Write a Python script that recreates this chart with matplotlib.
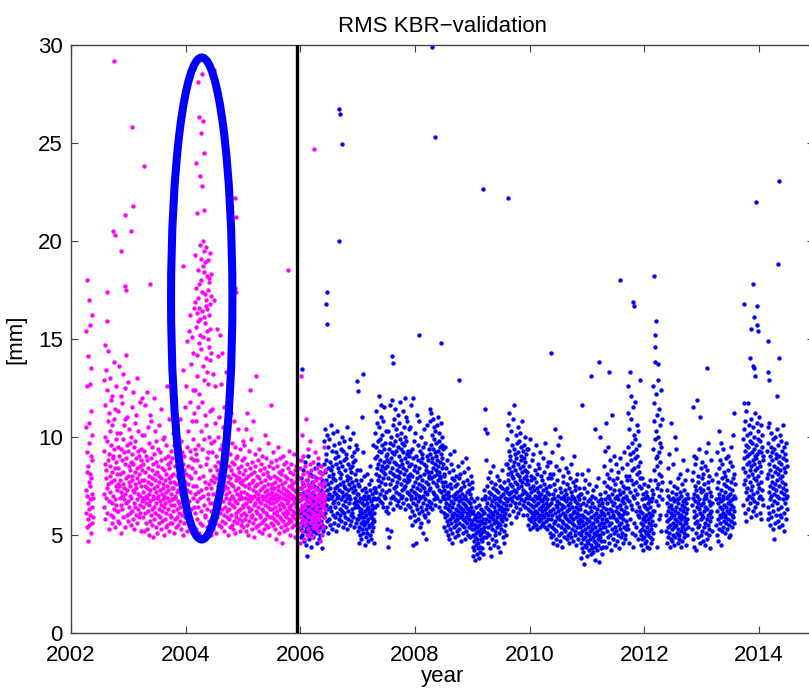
import numpy as np
import matplotlib.pyplot as plt
from matplotlib.patches import Ellipse

plt.rcParams['font.family'] = ['Liberation Sans', 'DejaVu Sans']

# KBR validation RMS [mm], stored as runs of evenly spaced samples:
# run k covers t0[k] .. t1[k] (decimal year)

# first satellite period (magenta)
mag_t0 = [2002.26, 2002.57, 2002.82, 2003.25, 2003.76, 2004.16, 2004.45, 2005.00, 2005.50, 2005.97]
mag_t1 = [2002.38, 2002.82, 2003.25, 2003.76, 2004.16, 2004.45, 2005.00, 2005.50, 2005.97, 2006.43]
mag_rms = [
    "7.3 10.5 6.1 15.4 8.2 5.4 12.6 7.0 9.2 18.0 5.8 6.6 14.1 8.5 4.7 7.7 10.7 6.3 17.0 5.5 9.7 12.7 7.5 15.7 6.0 8.1 "
    "6.8 11.3 5.1 9.0 7.9 13.5 6.4 8.8 5.6 16.2 7.1 10.1 6.9 5.9",
    "9.3 12.9 7.1 6.4 14.7 8.6 10.0 5.8 11.6 7.9 13.4 6.9 8.3 15.9 9.8 7.4 12.4 6.1 10.8 8.8 14.4 7.6 5.3 9.1 11.2 6.7 "
    "8.0 13.0 7.2 10.3 8.5 6.0 9.6 11.9 7.7 5.6 10.6 8.2 6.6 12.1 9.0 7.0 5.9 8.9 10.9 6.3 7.8 13.8 9.4 6.8 8.4 11.4 "
    "5.4 7.5 9.9 6.5 8.7 12.6 7.3 10.2 6.2 8.1 9.5 7.6 5.7",
    "8.4 6.2 11.3 7.5 9.0 5.6 13.6 7.8 6.9 10.2 8.1 12.1 6.5 9.4 7.2 5.1 8.8 11.7 7.0 6.3 9.9 13.2 8.2 5.9 7.6 10.6 "
    "6.8 9.2 7.4 12.5 8.6 5.4 7.1 10.9 6.6 8.9 7.9 14.2 6.0 9.6 7.3 11.0 8.0 5.7 6.7 9.3 12.8 7.7 8.5 6.4 10.4 7.0 "
    "8.3 6.1 9.7 7.5 5.5 8.7 10.0 6.9 7.8 11.5 6.2 8.0 9.1 5.8 7.3 12.3 8.6 6.6 9.5 7.2 5.3 10.7 8.2 6.4 7.6 9.8 "
    "6.0 8.9 11.1 7.4 5.6 8.4 6.8 13.0 7.9 9.3 6.3 7.1 10.3 8.1 5.9 7.7 9.0 6.5 8.5 11.8 7.0 6.1 9.4 7.5 8.8 5.2 "
    "10.1 6.7 7.8 12.0 8.3 6.9",
    "7.2 5.9 8.6 6.4 10.1 7.8 5.2 9.3 6.8 7.5 11.6 6.1 8.2 7.0 5.6 9.0 6.6 12.3 7.4 8.8 5.3 6.9 10.5 7.7 6.2 8.4 "
    "5.0 7.1 9.7 6.5 8.0 11.1 7.3 5.7 6.7 8.9 7.6 10.8 6.0 8.3 5.5 7.9 6.3 9.5 7.0 4.9 8.6 6.8 12.0 7.4 5.8 9.1 "
    "6.4 7.8 10.3 6.1 8.1 5.4 7.2 9.8 6.6 8.7 7.5 5.1 8.2 6.9 9.4 7.0 6.0 8.5 5.6 7.7 10.6 6.3 8.0 7.3 5.9 9.2 "
    "6.7 7.9 5.3 8.8 6.5 11.4 7.1 6.2 8.4 5.7 7.6 9.9 6.8 7.4 5.0 8.3 6.4 7.0 10.0 5.8 8.9 6.6 7.8 5.4 9.6 7.2 "
    "6.1 8.1 7.5 5.5 6.9 12.6 8.6 6.3 7.3 9.0 5.2 7.9 6.7 8.4 10.9 6.0 7.7 5.6 8.7 6.5 7.1 9.3 5.9 8.0 6.8 7.4",
    "6.8 8.9 5.6 7.4 10.2 6.2 8.1 5.1 7.7 9.6 6.5 12.1 7.0 5.8 8.5 6.9 11.0 7.6 5.4 9.1 6.3 8.0 7.2 5.9 10.6 6.7 "
    "8.7 7.3 5.5 9.4 6.1 8.2 6.6 7.9 10.9 5.7 8.4 6.4 9.8 7.1 8.8 5.3 7.5 6.0 9.2 7.8 5.0 8.6 6.8 13.4 7.4 5.6 "
    "9.0 6.2 8.3 11.5 7.0 5.9 7.7 6.5 12.6 8.1 6.9 5.2 9.5 7.3 14.9 6.6 8.5 5.8 10.3 7.6 6.1 15.4 8.0 6.7 11.8 5.5 "
    "9.3 7.2 16.2 8.9 6.3 13.7 7.9 5.4 10.8 8.4 15.1 6.9 12.4 7.5 9.9 14.3 6.4 8.8 11.2 16.6 7.1 9.4",
    "8.2 16.9 6.1 12.4 19.3 7.5 15.6 5.3 10.8 17.6 9.1 24.0 6.7 14.2 16.3 8.8 21.4 5.8 13.1 17.1 7.2 15.9 28.1 11.5 "
    "6.4 18.5 9.6 16.6 5.1 14.8 26.3 7.9 17.8 12.2 19.8 6.9 15.2 23.3 8.5 16.0 5.6 18.0 10.3 25.5 7.3 14.5 19.1 6.2 "
    "17.4 11.8 28.5 9.4 16.4 22.8 5.5 13.6 20.0 8.0 26.1 15.1 18.7 7.0 21.6 12.9 24.5 6.5 18.4 16.1 9.9 19.5 7.7 "
    "17.3 6.0 15.8 11.1 18.9 5.9 16.7 8.6 14.0 17.0 7.4 19.7 10.6 6.3 15.4 18.2 5.4 13.3 16.5 8.9 17.5 6.8 12.7 19.0 "
    "7.1 15.0 9.2 18.1 5.7 16.2 10.0 14.6 7.6 17.9 6.6 13.9 19.4 8.3 15.5 5.2 16.8 11.3 7.8 18.3 6.2 14.3 9.7 17.2 5.0",
    "7.4 9.2 5.8 6.6 11.4 8.0 5.3 13.2 7.1 6.2 9.8 17.0 7.7 5.6 8.5 10.7 6.4 12.6 7.9 5.1 9.0 6.8 15.5 8.3 7.2 5.9 "
    "10.0 6.5 14.1 8.7 7.5 5.5 11.0 6.9 8.1 7.0 15.2 6.1 9.4 7.6 5.4 8.6 12.7 6.3 7.8 9.6 5.7 14.3 8.2 6.7 10.5 7.3 "
    "5.2 11.5 8.9 6.0 7.5 9.9 6.4 8.4 5.6 7.1 13.3 6.9 8.8 5.9 7.4 9.3 6.2 8.0 5.0 7.7 10.2 6.6 8.5 5.8 7.2 6.3 "
    "9.1 5.4 7.9 6.8 8.3 11.2 6.0 7.6 5.5 8.7 6.5 9.7 7.0 5.3 8.1 6.9 7.5 10.8 5.7 8.6 6.4 7.3 5.1 9.5 6.7 8.0 "
    "7.8 5.9 6.1 8.9 7.1 9.0 5.6 6.6 8.4 7.4 10.4 6.2 5.8 7.9 6.8 8.2 5.2 7.0 9.4 6.3 7.7 5.5 8.5 6.0 7.2 6.9 "
    "8.8 5.7 7.6 9.8 6.4 8.1",
    "6.5 7.8 5.4 8.9 6.1 7.2 9.6 5.8 6.9 8.3 7.5 5.2 10.4 6.6 7.9 6.0 8.6 5.5 7.1 11.2 6.4 8.0 6.8 5.0 7.6 9.3 "
    "6.2 7.4 5.7 8.4 6.7 12.4 7.0 5.9 8.1 6.3 9.9 7.7 5.3 6.9 8.7 6.0 7.3 10.8 5.6 7.8 6.5 8.2 4.9 7.0 9.1 6.6 "
    "7.5 5.8 8.5 6.2 13.1 7.2 5.4 6.8 8.0 6.1 7.6 5.5 6.9 8.8 6.4 7.1 5.2 7.9 6.7 9.4 5.9 7.3 6.0 8.3 6.6 7.7 "
    "5.6 8.6 6.3 7.0 5.1 7.4 9.0 6.8 5.7 8.1 6.2 7.5 6.9 5.3 8.4 7.2 6.5 10.1 5.8 7.8 6.1 8.9 7.0 5.5 6.7 8.2 "
    "7.3 6.0 9.7 5.4 7.6 6.4 8.0 6.8 5.0 7.1 8.5 6.3 7.9 5.9 6.6 11.6 7.4 5.6 8.7 6.9 7.2",
    "6.8 5.9 7.6 6.3 8.4 5.5 7.0 6.6 9.2 5.8 7.4 6.1 8.0 6.9 5.3 7.7 6.4 8.8 5.7 7.1 6.7 4.8 7.9 6.2 8.5 6.0 "
    "7.3 5.6 9.5 6.8 7.5 5.1 6.5 8.2 7.0 5.9 7.8 6.3 8.9 5.4 7.2 6.6 8.1 5.8 7.6 6.9 4.6 8.3 6.1 7.4 5.7 9.0 "
    "6.5 7.1 5.2 8.6 6.4 7.7 6.0 5.5 8.0 6.8 7.3 5.9 6.2 8.7 7.0 5.3 6.6 7.9 6.1 8.4 5.6 7.2 6.7 9.3 5.8 7.5 "
    "6.4 6.9 8.2 5.0 7.1 6.3 7.8 5.7 6.5 8.6 7.4 6.0 5.4 7.6 6.8 8.1 5.9 7.0 6.2 9.1 5.5 7.3 6.6 8.3 4.9 6.9 "
    "7.7 6.1 8.5 5.8 7.2 6.4 5.2 7.9 6.7 8.0 5.6 7.4 6.3 8.8 6.0 7.1",
    "6.7 5.4 7.9 6.2 8.4 5.9 7.1 4.6 6.8 8.8 5.6 7.4 6.3 10.1 5.2 7.7 6.5 8.1 5.8 7.0 9.0 6.1 7.5 4.8 6.9 8.5 "
    "5.5 7.2 6.4 10.9 7.8 5.7 6.6 8.2 5.0 7.3 6.0 9.4 7.6 5.3 6.8 8.0 5.9 7.1 6.3 8.6 5.1 7.4 6.7 9.8 5.6 7.0 "
    "6.2 8.3 4.9 7.5 6.5 5.8 7.7 6.0 8.7 5.4 6.9 7.2 6.1 8.0 5.7 7.4 6.6 9.2 5.3 7.8 6.3 6.8 8.4 5.5 7.0 6.4 "
    "5.9 8.9 7.3 6.0 5.2 7.6 6.7 8.2 5.8 7.1 6.2 4.7 7.9 6.5 8.5 5.6 6.9 7.5 6.1 5.0 8.1 6.8 7.2 5.4 6.4 9.5 "
    "7.7 5.9 6.6 8.3 7.0 6.3",
]
mag_out_year = [2002.75, 2003.06, 2003.28, 2003.08, 2002.94, 2002.74, 2002.76, 2003.05, 2002.87, 2002.62,
                2002.94, 2002.96, 2003.38, 2003.95, 2004.50, 2004.86, 2004.87, 2004.86, 2004.87, 2005.79,
                2006.23, 2006.02]
mag_out_rms = [29.2, 25.8, 23.8, 21.8, 21.3, 20.5, 20.3, 20.5, 19.5, 17.4,
               17.7, 17.5, 17.8, 18.7, 28.7, 22.2, 21.2, 17.6, 17.4, 18.5,
               24.7, 13.1]

# second period (blue)
blu_t0 = [2006.00, 2006.40, 2007.00, 2007.30, 2007.90, 2008.26, 2008.50, 2009.00, 2009.20, 2009.60, 2009.95,
          2010.35, 2010.88, 2011.28, 2011.70, 2011.93, 2012.15, 2012.38, 2012.83, 2013.25, 2013.72, 2014.14]
blu_t1 = [2006.40, 2007.00, 2007.30, 2007.90, 2008.26, 2008.50, 2009.00, 2009.20, 2009.60, 2009.95, 2010.35,
          2010.88, 2011.28, 2011.70, 2011.93, 2012.15, 2012.31, 2012.76, 2013.18, 2013.58, 2014.07, 2014.49]
blu_rms = [
    "6.1 7.4 5.3 6.8 4.9 7.9 6.4 5.7 7.1 5.0 8.3 6.2 5.5 6.9 7.6 4.7 6.0 5.8 7.2 6.5 5.2 8.7 6.3 5.9 7.0 4.5 "
    "6.6 5.4 7.8 6.1 5.6 3.9 6.8 7.3 5.1 6.4 9.0 5.8 6.7 4.8 7.5 6.0 5.3 6.9 8.1 5.5 6.2 4.4 7.1 6.5 5.0 7.7 "
    "6.0 5.6 8.0 6.3 5.2 7.2 6.7 4.9 5.9 7.5 6.1 5.4 6.8 8.4 5.7 6.4 7.0 5.1 6.6 5.8 7.9 6.2 4.6 6.9 5.5 7.4 "
    "6.0 5.3 8.6 6.5 5.9 7.1 6.3 4.8 5.6 7.6 6.7 5.0 6.1 8.2 5.4 6.8 7.3 5.7 6.4 4.3 7.8 6.0 5.5 6.9 5.2 7.0 6.6",
    "7.2 8.6 5.9 9.8 6.7 7.5 10.4 6.1 8.2 5.4 7.8 9.1 6.5 7.0 8.8 5.7 10.1 7.3 6.3 8.4 5.1 9.5 7.6 6.8 8.0 5.8 "
    "7.1 9.9 6.4 8.7 7.4 5.5 6.9 10.6 8.3 6.2 7.7 9.3 5.3 7.0 8.5 6.6 7.9 10.2 6.0 8.1 7.2 5.6 9.6 6.7 7.4 8.9 "
    "5.9 7.8 6.4 9.2 7.1 5.2 8.6 6.9 10.3 7.5 6.1 8.4 7.0 5.5 9.0 6.6 8.2 7.3 5.8 9.7 6.3 7.9 8.7 6.0 7.6 9.4 "
    "5.7 8.1 6.8 7.2 10.0 6.2 8.5 7.7 5.4 9.3 6.5 7.0 8.8 6.1 7.5 9.8 5.9 8.3 6.7 7.4 5.6 8.9 7.1 6.4 9.1 7.8 "
    "5.3 8.0 6.9 10.5 7.3 6.2 8.6 5.8 7.6 9.5 6.6 7.0 8.4 5.5 6.8 9.9 7.9 6.0 8.2 7.4 5.7 9.0 6.3 7.7 8.5 6.1 "
    "10.2 7.2 5.9 8.7 6.6 7.5 9.2 5.4 8.1 6.9 7.3 8.8 6.4 5.6 9.6 7.8 6.7 8.3 7.1 5.8 9.4 6.5 7.6",
    "6.4 5.2 7.1 5.8 6.7 4.6 7.5 6.0 5.4 8.3 6.2 5.0 6.9 5.6 7.8 6.3 4.8 5.9 11.0 6.6 5.3 7.3 6.1 5.7 9.2 6.8 "
    "5.1 7.0 5.5 6.5 8.0 5.9 4.5 6.2 7.4 5.6 6.8 5.3 7.2 6.0 4.9 6.6 5.7 8.1 6.3 5.1 7.0 5.8 6.4 4.7 7.6 6.1 "
    "5.4 6.9 5.5 8.5 6.2 5.0 7.3 5.9 6.7 4.8 6.0 7.8 5.6 6.5 5.2 7.1 6.3 9.6 5.8 6.8 5.4 7.4 6.1 4.6 6.9 5.7 7.2 6.4",
    "8.9 7.4 10.2 6.8 9.5 8.1 11.3 7.2 9.0 6.5 10.7 8.4 7.8 9.8 6.9 8.6 12.1 7.5 9.3 8.0 10.5 6.7 8.8 7.1 9.9 8.3 "
    "11.0 7.7 9.2 6.6 8.5 10.1 7.3 9.6 8.2 6.4 10.8 7.9 8.7 9.4 7.0 11.5 8.1 6.9 9.7 7.6 8.4 10.3 7.2 9.0 6.2 8.8 "
    "5.3 9.1 6.4 8.5 4.4 7.9 10.3 6.1 8.7 4.9 9.4 7.3 11.6 8.2 6.6 9.7 7.6 10.0 5.2 8.9 6.9 9.2 11.9 7.8 8.4 10.6 "
    "7.0 9.6 8.1 6.3 10.9 8.7 7.4 9.1 11.4 8.0 6.8 9.8 7.5 10.4 8.6 7.2 9.3 6.5 10.1 8.3 7.7 9.5 11.1 8.0 6.7 9.0 "
    "7.9 10.7 8.5 7.1 9.9 6.4 8.2 11.8 7.6 9.4 8.8 6.9 10.2 7.3 8.6 9.7 7.0 11.3 8.4 6.6 9.2 7.8 10.5 8.1 7.4 9.6 "
    "6.3 8.9 10.0 7.5 8.3 9.8 6.8 11.0 7.7 8.7 9.1 7.2 10.8 8.0 6.5 9.3 7.9 8.5 10.4 7.1 9.0",
    "7.8 6.4 9.2 8.1 5.9 10.5 7.3 6.8 8.6 11.6 7.0 5.5 9.4 6.2 8.0 12.0 7.5 6.6 8.9 4.5 7.2 9.8 6.0 8.3 7.7 5.7 "
    "10.2 6.9 8.5 7.1 4.6 9.0 6.5 7.9 11.1 6.3 8.2 7.4 5.8 9.6 6.7 8.8 7.0 10.8 6.1 8.4 7.6 5.4 9.3 6.9 8.0 7.3 "
    "10.0 6.4 8.7 5.6 7.8 9.1 6.2 7.5 8.9 5.1 7.0 9.5 6.6 8.1 7.4 10.4 6.0 8.6 7.2 5.9 9.7 6.8 8.3 7.7 4.8 8.5 "
    "6.3 9.0 7.1 6.5 10.6 8.2 7.6 5.7 8.8 6.1 7.9 9.4 6.7 8.0 7.3 11.4 6.4",
    "9.1 7.4 10.8 8.2 6.6 9.6 11.2 7.9 8.7 6.3 10.1 8.9 7.2 9.4 10.9 7.7 8.4 6.8 9.9 8.0 10.5 7.1 9.2 8.6 6.5 10.3 "
    "7.6 9.0 8.3 7.0 9.7 8.1 10.6 6.9 8.8 7.5 9.3 11.0 7.8 8.5 6.4 9.8 8.2 7.3 10.2 8.7 6.7 9.5 7.9 8.0 10.7 7.2 "
    "9.1 6.2 8.4 9.6 7.7 8.9 10.0 7.0 8.6 9.4 7.5 6.9 8.1",
    "7.3 6.1 8.0 5.4 6.8 7.7 5.9 9.5 6.4 7.1 5.2 8.4 6.6 5.7 7.5 6.0 8.8 5.0 6.9 7.2 5.5 6.3 8.2 4.8 7.0 6.5 "
    "5.8 9.1 6.2 7.6 5.3 6.7 8.6 5.6 7.4 6.0 4.6 7.9 6.4 5.1 7.0 8.3 5.9 6.6 7.8 5.4 6.1 9.3 7.1 5.7 6.8 4.9 "
    "7.5 6.3 5.5 8.0 6.9 5.2 7.2 6.0 5.8 7.6 6.5 5.0 8.5 6.2 7.0 5.6 6.7 7.9 5.3 6.4 8.1 5.9 7.3 6.1 4.7 6.8 "
    "7.4 5.5 6.3 8.7 6.0 7.1 5.8 6.6 5.1 7.7 6.9 5.4 8.2 6.2 7.5 5.7 6.5 4.8 7.0 6.4 5.9 8.9 6.8 5.2 7.2 6.1 "
    "5.6 7.8 6.7 5.0 6.3 8.4 5.8 7.3 6.0 5.4 7.6 6.6 4.9 7.1 6.2 5.5 8.0 6.9 5.7 6.4 7.4 5.3 6.1 7.7",
    "5.6 4.4 6.2 5.0 3.9 5.8 6.7 4.7 5.3 4.2 6.0 5.5 3.7 4.9 6.4 5.1 4.5 5.9 4.0 5.4 6.9 4.8 5.7 4.3 5.2 6.1 "
    "4.6 5.5 3.8 5.9 6.5 4.4 5.0 5.7 4.1 6.3 5.3 4.8 6.0 5.1 4.3 5.6 6.8 4.7 5.2 4.0 5.8 6.2 4.9 5.4",
    "6.1 7.3 5.2 10.4 6.8 5.6 11.4 7.0 4.9 6.4 8.8 5.8 10.2 6.6 5.1 7.5 6.0 5.4 7.9 4.6 6.3 5.7 7.2 6.9 5.0 8.2 "
    "6.2 4.3 5.9 7.1 6.5 3.9 5.5 7.7 6.1 4.8 6.7 5.3 8.5 6.0 5.8 7.4 4.5 6.4 5.6 7.0 6.8 5.2 7.6 6.2 5.0 7.3 "
    "5.7 6.6 4.7 6.9 5.4 8.0 6.1 5.9 7.2 4.4 6.5 5.6 7.8 6.3 5.1 6.8 7.5 5.5 6.0 4.1 6.7 5.8 7.0 6.4 5.3 8.3 "
    "6.2 5.7 7.4 4.9 6.6 5.9 7.1 6.0 5.2 7.7 6.3 4.6 6.9 5.5 7.3 6.1 5.8 8.6 6.5 5.0 7.2 6.7",
    "7.4 8.6 6.3 9.9 7.8 6.8 10.6 8.1 7.1 9.3 6.0 8.4 11.2 7.6 6.5 9.0 8.8 7.2 10.3 6.9 8.2 5.6 9.6 7.5 8.0 6.7 "
    "10.9 7.9 8.5 6.2 9.4 7.0 8.7 11.6 7.3 6.6 9.1 8.3 7.7 5.9 10.1 7.2 8.9 6.4 9.7 7.6 8.1 6.9 10.5 7.4 8.6 6.1 "
    "9.2 8.0 7.0 9.8 6.6 8.4 7.8 10.2 6.3 9.0 7.5 8.8 6.8 9.5 7.1 8.2 10.8 7.7 6.5 9.3 8.5 7.3 6.0 8.9 9.6 7.9 "
    "6.7 8.3 10.0 7.2 8.7 6.4 9.1 7.6 8.0 6.9 9.4 7.8",
    "7.1 6.0 8.2 6.6 5.5 7.6 9.4 6.3 7.0 5.8 8.5 6.9 7.4 5.3 6.2 9.9 7.8 6.5 5.7 8.0 7.2 6.1 8.8 5.9 6.8 7.5 "
    "5.4 9.1 6.4 7.9 6.0 7.3 6.7 5.6 8.3 7.0 6.2 5.8 9.6 7.7 6.5 5.5 8.1 6.9 7.4 6.1 5.3 8.6 6.6 7.2 5.9 6.3 "
    "8.4 7.0 5.7 6.8 9.2 6.0 7.5 5.4 6.4 8.0 7.1 5.8 6.7 7.8 6.2 5.5 8.9 6.5 7.3 6.0 5.6 7.6 6.9 8.2 5.9 6.3 "
    "7.0 5.4 9.7 6.6 7.4 6.1 5.7 8.5 6.8 7.2 5.3 6.4 7.9 6.0 8.7 5.8 7.5 6.5 5.5 7.1 6.2 8.1",
    "6.2 7.5 5.1 8.7 5.8 6.6 4.9 7.9 6.0 5.4 9.2 6.8 5.0 7.1 6.3 4.6 8.1 5.6 6.9 7.6 5.3 10.4 6.1 5.7 7.3 4.8 "
    "6.5 8.5 5.2 6.7 5.9 7.8 4.5 6.4 9.6 5.5 7.0 6.2 5.0 8.3 6.6 5.8 7.4 4.7 6.0 10.0 5.4 6.9 7.2 5.1 6.3 8.9 "
    "5.7 6.5 4.4 7.7 6.1 5.6 8.0 6.8 5.3 7.0 4.9 6.4 5.9 7.3 6.0 5.2 8.4 6.7 5.5 7.1 4.8 6.2 5.8 7.6 6.5 5.0 "
    "6.9 8.2 5.4 6.3 7.4 5.7 4.6 6.6 7.9 5.1 6.0 7.2 5.9 4.9 6.8 8.6 5.3 6.4 7.0 5.6 6.1 7.7 4.7 5.8 6.9 9.0 "
    "5.5 6.2 7.5 5.0 6.7 5.2 7.3 6.4 4.5 5.9 7.8 6.1 5.4 6.6 8.1 5.7 7.0 6.3 4.8 5.6 7.4 6.0 5.1 6.8 7.1 5.8 6.5",
    "5.4 6.3 4.6 7.1 5.0 3.8 6.0 5.7 4.3 8.1 5.2 6.6 4.8 5.5 4.1 6.9 5.9 3.5 7.4 4.5 6.2 5.3 4.9 7.8 5.6 4.4 "
    "6.5 5.1 4.7 7.2 5.8 3.9 6.1 8.3 5.4 4.6 6.7 5.0 4.2 7.6 5.7 6.4 4.8 5.2 6.8 4.0 5.5 6.2 4.5 5.9 7.0 4.3 "
    "5.3 6.6 4.9 5.6 7.3 4.1 6.0 5.1 4.7 6.4 5.8 3.7 6.9 5.4 4.4 6.1 5.0 7.5 4.6 5.7 6.3 4.2 5.2 6.7 4.8 5.9 "
    "7.9 4.5 5.5 6.5 3.6 5.0 6.0 4.9 7.1 5.3 4.3 6.2 5.6 4.7 6.8 5.1 4.0 5.8 6.6 4.4 5.4 6.1",
    "6.4 5.1 7.7 5.6 8.5 6.0 4.7 7.2 5.4 6.8 9.3 5.8 10.7 6.3 4.4 7.5 5.2 6.6 8.1 5.7 4.9 7.0 6.1 9.5 5.5 6.9 "
    "4.6 7.9 5.9 6.3 8.8 5.0 7.4 6.7 4.2 5.6 8.3 6.2 7.1 5.3 11.1 6.5 4.8 7.8 5.9 6.0 9.0 5.1 7.3 6.6 5.4 6.9 "
    "4.5 7.6 5.8 6.2 8.6 5.2 7.0 6.4 4.7 5.7 7.9 6.1 5.0 8.2 6.8 5.5 7.3 4.3 6.0 5.9 8.9 6.5 5.3 7.1 6.3 4.9 "
    "7.7 5.6 6.7 8.4 5.1 6.0 7.5 4.6 6.9 5.8 7.2 6.2 5.4 9.2 6.6 5.0 7.4 6.1 4.8 5.7 8.0 6.4 5.3 7.0 6.8 5.5 7.8",
    "8.6 6.1 11.2 7.4 9.5 5.3 12.6 8.0 6.7 10.4 4.6 9.1 7.2 13.3 5.8 8.8 10.9 6.5 7.8 12.1 5.1 9.7 8.3 6.3 11.5 7.0 "
    "4.4 9.2 7.6 10.1 5.6 8.4 6.9 9.9 7.3 5.0 8.9 11.8 6.2 7.7 9.4 5.4 8.1 10.6 6.6 7.1 9.0 4.8 8.5 6.0 10.3 7.5 "
    "5.9 8.2 9.6 6.4 7.9 12.9 5.2 8.7",
    "6.2 5.0 7.4 5.6 4.5 6.8 5.3 7.9 4.8 6.1 5.8 4.2 7.1 5.5 6.5 4.9 5.9 7.6 5.2 6.4 4.6 6.9 5.7 5.1 7.2 6.0 "
    "4.7 6.3 5.4 7.0 4.4 5.8 6.6 5.0 7.5 5.6 4.3 6.1 6.8 5.2 5.9 7.8 4.9 6.4 5.5 4.6 6.7 5.3 7.3 6.0 4.8 5.7 "
    "6.9 5.1 6.2",
    "9.4 7.1 12.6 8.3 10.8 6.2 11.7 14.6 7.8 9.9 5.5 13.8 8.9 10.3 6.7 12.2 4.4 9.0 7.4 11.1 8.5 6.5 10.0 7.6 12.9 "
    "9.2 5.8 8.1 11.4 7.0 9.7 6.0 10.6 8.7 7.3 12.4 5.2 9.5 8.0 6.8 10.9 7.7",
    "6.0 5.2 7.3 5.7 4.6 6.6 8.4 5.4 6.2 4.9 7.0 5.8 9.1 6.4 5.1 4.4 6.8 5.5 7.7 6.1 4.8 5.9 10.7 6.5 5.3 7.2 "
    "4.7 6.3 5.6 8.6 6.9 5.0 6.0 7.5 5.4 4.5 6.7 10.0 5.8 6.2 4.9 7.1 5.5 9.4 6.4 5.1 6.8 5.7 7.4 4.6 6.1 5.3 "
    "7.9 6.6 5.0 5.9 6.9 4.8 7.2 5.6 6.3 8.1 5.2 6.0 4.4 7.0 5.8 6.5 5.4 7.6 4.7 6.2 5.5 8.8 6.7 5.1 5.9 7.3 "
    "6.4 4.9 5.7 6.8 5.3 7.8 6.1 4.5 6.6 5.6 7.1 5.0 6.3 8.3 5.8 6.9 5.4",
    "6.5 7.8 5.3 11.5 6.9 4.8 8.2 5.9 7.1 6.2 9.0 4.4 7.5 5.6 6.7 8.6 5.1 7.3 6.0 4.2 8.9 6.4 5.7 11.9 7.0 5.4 "
    "6.6 8.0 4.9 7.7 6.3 9.4 5.5 6.8 7.4 4.6 11.0 6.1 8.4 5.8 7.2 6.5 5.0 7.9 6.0 5.2 8.7 6.6 7.3 4.7 5.9 8.1 "
    "6.8 5.4 7.6 6.2 4.5 7.0 8.5 5.6 6.4 9.2 5.1 7.1 6.9 5.8 8.3 4.8 6.3 7.7 5.5 6.0 9.7 7.4 5.3 6.7 8.0 5.0 "
    "6.1 7.2 5.7 4.3 6.5 8.8 7.0 5.9 6.2 7.8 5.2 6.6",
    "6.8 5.5 8.1 6.2 7.4 5.0 9.2 6.6 5.8 7.7 4.7 6.9 8.4 5.3 7.1 10.3 6.0 5.6 8.8 6.4 7.3 4.5 6.7 9.7 5.9 7.9 "
    "6.3 5.2 8.6 7.0 6.1 5.4 9.4 6.8 7.6 5.7 8.2 6.5 7.2 5.9 6.0 8.0 5.1 7.5 6.4 8.9 5.6 6.9 7.8 5.3 6.2 9.0 "
    "7.0 5.8 6.6 8.3 4.9 7.4 6.1 5.5 8.7 6.7 7.1 5.0 6.3 9.5 7.7 5.7 6.5 8.5 6.0 7.3 5.4 6.8 10.1 7.9 5.9 6.4 "
    "8.1 7.0 5.6 6.2 11.2 7.6 6.9",
    "8.4 9.9 6.5 11.7 7.6 10.4 8.9 6.1 9.3 7.8 10.8 8.2 5.7 9.6 7.2 11.3 8.6 6.8 10.1 9.0 7.4 8.0 11.7 6.3 9.5 8.7 "
    "10.6 7.0 9.1 6.6 8.3 10.2 7.7 9.8 5.9 8.5 7.3 10.9 6.9 9.2 8.1 7.5 9.7 6.2 8.8 10.5 7.1 9.4 8.6 6.7 10.0 7.9 "
    "9.0 11.2 6.4 8.3 7.8 9.6 6.0 8.9 10.7 7.2 9.1 8.4 6.6 9.9 7.6 10.3 8.0 6.9 9.3 11.0 7.4 8.7 6.1 9.8 7.0 8.5 "
    "10.6 7.7 5.8 9.2 8.2 6.8 10.1 7.3 9.5 8.8 6.5 9.0",
    "7.9 9.3 6.4 10.5 8.1 5.8 9.7 7.2 8.6 6.1 10.7 7.5 9.0 5.5 8.3 6.8 9.5 7.0 10.2 5.9 8.8 7.7 6.5 9.2 8.0 5.3 "
    "7.4 9.9 6.2 8.5 7.1 4.8 9.4 6.7 8.2 7.6 10.0 5.6 8.9 7.3 6.0 9.1 7.8 6.6 8.4 10.4 7.0 5.7 9.6 8.1 6.3 7.5 "
    "9.0 5.4 8.7 6.9 10.1 7.9 6.0 8.3 9.8 5.9 7.2 8.6 6.4 9.3 7.7 5.5 8.0 6.8 10.6 7.4 8.9 6.1 9.5 7.1 5.2 8.4 "
    "6.6 9.1 7.6 8.2 6.9 9.7 5.8 7.3 8.8 6.3 7.0 8.5",
]
blu_out_year = [2006.03, 2006.46, 2006.45, 2006.47, 2006.67, 2006.70, 2006.72, 2006.68, 2006.99, 2007.00,
                2007.10, 2007.60, 2007.61, 2007.40, 2007.82, 2008.07, 2008.45, 2008.30, 2008.35, 2008.77,
                2009.19, 2009.62, 2010.37, 2010.91, 2011.14, 2011.22, 2011.07, 2011.21, 2011.38, 2011.58,
                2011.80, 2011.82, 2012.17, 2012.20, 2012.18, 2012.23, 2013.10, 2013.73, 2013.89, 2013.96,
                2013.91, 2013.86, 2013.97, 2013.98, 2013.84, 2013.89, 2013.92, 2013.93, 2013.95, 2014.35,
                2014.33, 2014.15, 2014.34, 2014.16, 2014.17, 2014.32]
blu_out_rms = [13.45, 17.4, 16.8, 15.75, 26.75, 26.5, 24.96, 20.0, 12.85, 12.35,
               13.2, 14.1, 13.76, 11.6, 12.0, 15.2, 14.8, 29.9, 25.3, 12.9,
               22.65, 22.2, 14.3, 11.6, 10.4, 10.0, 13.1, 13.8, 13.3, 18.0,
               16.9, 16.7, 18.2, 15.9, 15.2, 13.7, 13.5, 16.8, 17.8, 16.7,
               16.1, 15.5, 15.7, 15.4, 14.0, 13.6, 13.5, 13.1, 22.0, 23.05,
               18.8, 14.9, 14.0, 13.3, 12.9, 12.1]

switch_year = 2005.94
ellipse_center = (2004.28, 17.06)
ellipse_size = (1.07, 24.6)


def unpack(t0, t1, runs, out_year, out_rms):
    xs, ys = [], []
    for a, b, s in zip(t0, t1, runs):
        v = np.array(s.split(), dtype=float)
        xs.append(np.linspace(a, b, len(v)))
        ys.append(v)
    xs.append(np.array(out_year))
    ys.append(np.array(out_rms))
    return np.concatenate(xs), np.concatenate(ys)


mx, my = unpack(mag_t0, mag_t1, mag_rms, mag_out_year, mag_out_rms)
bx, by = unpack(blu_t0, blu_t1, blu_rms, blu_out_year, blu_out_rms)

fig = plt.figure(figsize=(8.09, 6.91), dpi=100)
ax = fig.add_axes([71 / 809, 58.3 / 691, 742.5 / 809, 587.7 / 691])

ax.scatter(bx, by, s=10, color=(0, 0, 1), linewidths=0, zorder=2)
ax.scatter(mx, my, s=10, color=(1, 0, 1), linewidths=0, zorder=2)
ax.plot([switch_year, switch_year], [0, 30], color='k', lw=2.4, zorder=3)
ax.add_patch(Ellipse(ellipse_center, *ellipse_size, fill=False, ec=(0, 0, 1), lw=5.8, zorder=4))

ax.set_xlim(2002, 2014.95)
ax.set_ylim(0, 30)
ax.set_xticks(range(2002, 2015, 2))
ax.set_yticks(range(0, 31, 5))
ax.tick_params(direction='in', top=True, right=True, length=5, width=0.8,
               color='#444444', labelsize=16, pad=6)
ax.tick_params(axis='x', pad=8.5)
for sp in ax.spines.values():
    sp.set_color('#444444')
    sp.set_linewidth(1.0)

ax.set_title('RMS KBR\u2212validation', fontsize=16, pad=9)
ax.set_xlabel('year', fontsize=16, labelpad=0)
ax.set_ylabel('[mm]', fontsize=16, labelpad=8)

fig.savefig('out.png', dpi=100)
